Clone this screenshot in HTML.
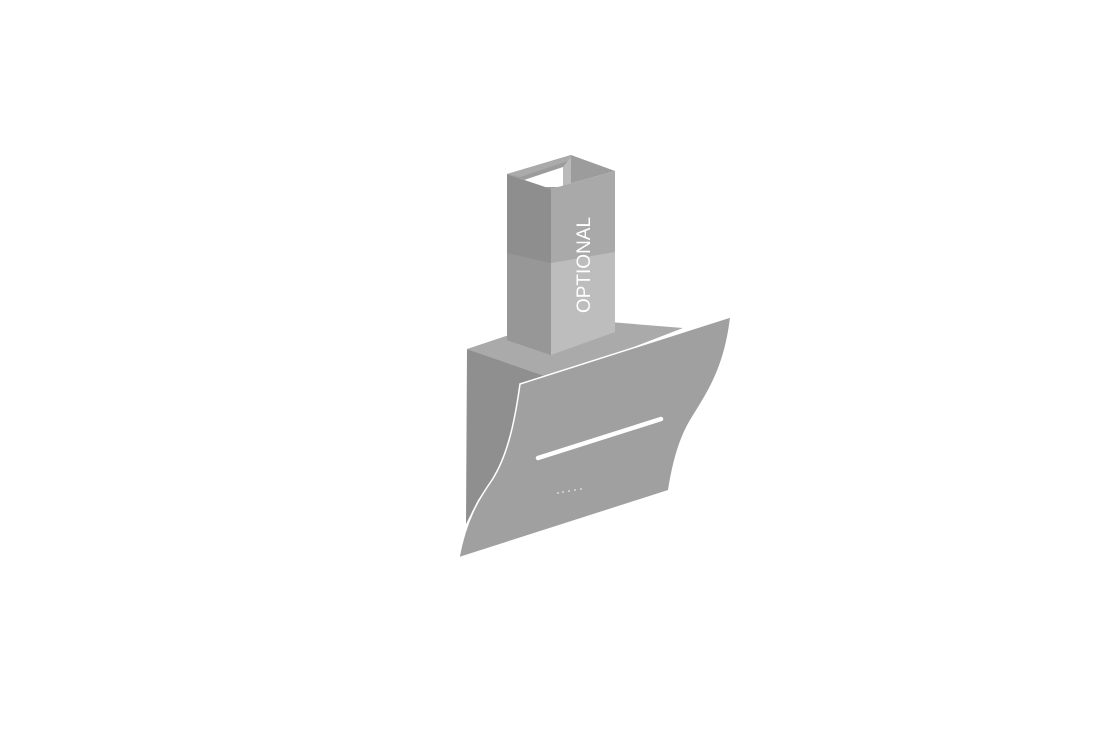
<!DOCTYPE html>
<html><head><style>html,body{margin:0;padding:0;background:#fff;width:1100px;height:735px;overflow:hidden}</style></head>
<body>
<svg width="1100" height="735" viewBox="0 0 1100 735" xmlns="http://www.w3.org/2000/svg">
<!-- base box -->
<polygon points="467,349 560,318 683,328 600,360 545,376" fill="#aaaaaa"/>
<polygon points="467,349 545,376 520,384 515,420 508,455 492,480 478,500 466,524" fill="#8f8f8f"/>
<!-- chimney -->
<polygon points="507,174 571,155 615,171 551,189" fill="#9c9c9c"/>
<polygon points="507,174 571,155 571,160 520,177" fill="#aaaaaa"/>
<polygon points="524,180 563,167 563,187 540,187" fill="#ffffff"/>
<polygon points="563,167 571,157 571,184 563,187" fill="#bababa"/>
<polygon points="507,174 551,189 551,355 507,340" fill="#8e8e8e"/>
<polygon points="507,253 551,263 551,355 507,340" fill="#979797"/>
<polygon points="551,189 615,171 615,332 551,355" fill="#a9a9a9"/>
<polygon points="551,263 615,252 615,332 551,355" fill="#bdbdbd"/>
<text x="0" y="0" transform="translate(590,265) rotate(-90)" text-anchor="middle" font-family="Liberation Sans, sans-serif" font-size="19" fill="#ffffff">OPTIONAL</text>
<!-- glass -->
<path d="M520,384 L730,317 C724,370 705,395 690,420 C678,440 672,465 668,490 L459,557 C466,520 478,500 492,480 C508,455 515,420 520,384 Z" fill="#a0a0a0"/>
<path d="M730,317 L520,384 C515,420 508,455 492,480 C478,500 466,520 459,557" fill="none" stroke="#ffffff" stroke-width="1.5"/>
<line x1="538" y1="458" x2="661" y2="419" stroke="#ffffff" stroke-width="4.5" stroke-linecap="round"/>
<g fill="#ffffff"><circle cx="558" cy="493" r="0.8"/><circle cx="563" cy="492" r="0.8"/><circle cx="569" cy="491" r="0.8"/><circle cx="575" cy="490" r="0.8"/><circle cx="581" cy="489" r="0.8"/></g>
</svg>
</body></html>
